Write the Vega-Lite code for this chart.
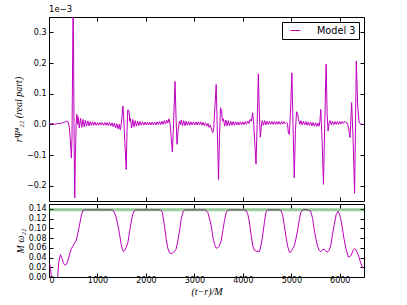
{
  "$schema": "https://vega.github.io/schema/vega-lite/v6.json",
  "background": "white",
  "padding": {"left": 13, "top": 4, "right": 5, "bottom": 5},
  "config": {
    "font": "DejaVu Sans",
    "view": {"stroke": "black", "strokeWidth": 1},
    "axis": {"grid": false, "domain": false, "tickColor": "black", "tickSize": -4, "labelColor": "black", "labelFontSize": 8, "labelPadding": 7, "titleColor": "black", "titleFont": "Liberation Serif", "titleFontStyle": "italic", "titleFontWeight": "normal", "titleFontSize": 10}
  },
  "spacing": 1,
  "datasets": {
    "psi": [
      {"t":0,"v":0.004},{"t":40,"v":0.001},{"t":80,"v":0.003},{"t":120,"v":0.0},{"t":160,"v":0.002},{"t":200,"v":0.003},{"t":240,"v":0.003},{"t":280,"v":0.005},{"t":320,"v":0.007},{"t":360,"v":0.01},{"t":395,"v":0.008},{"t":420,"v":-0.01},{"t":440,"v":-0.05},{"t":462,"v":-0.11},{"t":475,"v":-0.04},{"t":487,"v":0.2},{"t":497,"v":0.4},{"t":507,"v":0.25},{"t":518,"v":-0.05},{"t":531,"v":-0.24},{"t":545,"v":-0.1},{"t":560,"v":0.0},{"t":575,"v":0.033},{"t":590,"v":0.0},
      {"t":600,"v":0.025},{"t":625,"v":-0.012},{"t":650,"v":0.02},{"t":675,"v":-0.01},{"t":700,"v":0.016},{"t":725,"v":-0.008},{"t":750,"v":0.013},{"t":775,"v":-0.006},{"t":800,"v":0.011},{"t":825,"v":-0.005},{"t":850,"v":0.009},{"t":875,"v":-0.004},{"t":900,"v":0.008},{"t":925,"v":-0.003},{"t":950,"v":0.007},{"t":975,"v":-0.003},{"t":1000,"v":0.006},{"t":1025,"v":-0.003},{"t":1050,"v":0.006},{"t":1075,"v":-0.002},{"t":1100,"v":0.006},{"t":1125,"v":-0.003},{"t":1150,"v":0.006},{"t":1175,"v":-0.003},{"t":1200,"v":0.006},{"t":1225,"v":-0.004},{"t":1250,"v":0.006},{"t":1275,"v":-0.005},{"t":1300,"v":0.005},{"t":1325,"v":-0.008},{"t":1350,"v":0.004},{"t":1375,"v":-0.012},{"t":1400,"v":0.002},{"t":1425,"v":-0.015},{"t":1450,"v":0.0},{"t":1470,"v":-0.018},
      {"t":1490,"v":0.0},{"t":1510,"v":0.03},{"t":1525,"v":0.06},{"t":1540,"v":0.025},{"t":1565,"v":-0.06},{"t":1593,"v":-0.147},{"t":1610,"v":-0.02},{"t":1625,"v":0.047},{"t":1650,"v":0.045},{"t":1665,"v":0.01},
      {"t":1680,"v":0.02},{"t":1705,"v":-0.012},{"t":1730,"v":0.016},{"t":1755,"v":-0.008},{"t":1780,"v":0.012},{"t":1805,"v":-0.006},{"t":1830,"v":0.01},{"t":1855,"v":-0.004},{"t":1880,"v":0.009},{"t":1905,"v":-0.003},{"t":1930,"v":0.008},{"t":1955,"v":-0.002},{"t":1980,"v":0.007},{"t":2005,"v":-0.002},{"t":2030,"v":0.007},{"t":2055,"v":-0.002},{"t":2080,"v":0.007},{"t":2105,"v":-0.002},{"t":2130,"v":0.007},{"t":2155,"v":-0.002},{"t":2180,"v":0.007},{"t":2205,"v":-0.002},{"t":2230,"v":0.008},{"t":2255,"v":-0.001},{"t":2280,"v":0.009},{"t":2305,"v":-0.001},{"t":2330,"v":0.01},{"t":2355,"v":0.0},{"t":2380,"v":0.012},{"t":2405,"v":0.001},{"t":2430,"v":0.014},{"t":2450,"v":0.004},{"t":2477,"v":0.018},
      {"t":2500,"v":0.0},{"t":2520,"v":-0.04},{"t":2545,"v":-0.09},{"t":2570,"v":0.0},{"t":2600,"v":0.14},{"t":2620,"v":0.03},{"t":2641,"v":-0.065},{"t":2665,"v":-0.02},{"t":2690,"v":0.01},{"t":2710,"v":0.0},{"t":2730,"v":0.014},
      {"t":2755,"v":-0.005},{"t":2780,"v":0.012},{"t":2805,"v":-0.004},{"t":2830,"v":0.01},{"t":2855,"v":-0.003},{"t":2880,"v":0.009},{"t":2905,"v":-0.003},{"t":2930,"v":0.008},{"t":2955,"v":-0.002},{"t":2980,"v":0.008},{"t":3005,"v":-0.002},{"t":3030,"v":0.008},{"t":3055,"v":-0.002},{"t":3080,"v":0.008},{"t":3105,"v":-0.002},{"t":3130,"v":0.008},{"t":3155,"v":-0.003},{"t":3180,"v":0.007},{"t":3205,"v":-0.004},{"t":3230,"v":0.005},{"t":3255,"v":-0.006},{"t":3280,"v":0.003},{"t":3305,"v":-0.01},{"t":3330,"v":-0.002},{"t":3355,"v":-0.018},{"t":3381,"v":-0.027},
      {"t":3400,"v":-0.01},{"t":3425,"v":0.06},{"t":3450,"v":0.13},{"t":3470,"v":0.0},{"t":3498,"v":-0.18},{"t":3518,"v":-0.04},{"t":3539,"v":0.054},{"t":3560,"v":0.045},{"t":3580,"v":0.01},
      {"t":3600,"v":0.018},{"t":3625,"v":-0.006},{"t":3650,"v":0.014},{"t":3675,"v":-0.005},{"t":3700,"v":0.012},{"t":3725,"v":-0.004},{"t":3750,"v":0.01},{"t":3775,"v":-0.003},{"t":3800,"v":0.009},{"t":3825,"v":-0.003},{"t":3850,"v":0.008},{"t":3875,"v":-0.002},{"t":3900,"v":0.008},{"t":3925,"v":-0.002},{"t":3950,"v":0.008},{"t":3975,"v":-0.002},{"t":4000,"v":0.008},{"t":4025,"v":-0.001},{"t":4050,"v":0.009},{"t":4075,"v":0.0},{"t":4100,"v":0.011},{"t":4125,"v":0.003},{"t":4150,"v":0.016},{"t":4175,"v":0.01},{"t":4203,"v":0.038},
      {"t":4225,"v":0.0},{"t":4250,"v":-0.07},{"t":4272,"v":-0.13},{"t":4295,"v":0.0},{"t":4320,"v":0.165},{"t":4340,"v":0.04},{"t":4360,"v":-0.042},{"t":4380,"v":-0.01},{"t":4400,"v":0.012},
      {"t":4425,"v":-0.003},{"t":4450,"v":0.012},{"t":4475,"v":-0.002},{"t":4500,"v":0.01},{"t":4525,"v":0.0},{"t":4550,"v":0.01},{"t":4575,"v":0.0},{"t":4600,"v":0.009},{"t":4625,"v":0.0},{"t":4650,"v":0.009},{"t":4675,"v":0.0},{"t":4700,"v":0.009},{"t":4725,"v":0.0},{"t":4750,"v":0.009},{"t":4775,"v":0.0},{"t":4800,"v":0.009},{"t":4825,"v":0.001},{"t":4850,"v":0.009},{"t":4875,"v":0.002},{"t":4900,"v":0.006},{"t":4920,"v":0.003},{"t":4940,"v":-0.028},{"t":4960,"v":-0.033},
      {"t":4985,"v":0.05},{"t":5012,"v":0.168},{"t":5035,"v":0.0},{"t":5061,"v":-0.174},{"t":5085,"v":-0.02},{"t":5108,"v":0.041},{"t":5130,"v":0.035},{"t":5150,"v":0.015},
      {"t":5175,"v":0.0},{"t":5200,"v":0.012},{"t":5225,"v":-0.002},{"t":5250,"v":0.01},{"t":5275,"v":-0.002},{"t":5300,"v":0.009},{"t":5325,"v":-0.003},{"t":5350,"v":0.008},{"t":5375,"v":-0.004},{"t":5400,"v":0.007},{"t":5425,"v":-0.005},{"t":5450,"v":0.006},{"t":5475,"v":-0.006},{"t":5500,"v":0.005},{"t":5525,"v":-0.007},{"t":5550,"v":0.004},{"t":5575,"v":-0.006},{"t":5590,"v":0.01},
      {"t":5608,"v":0.049},{"t":5635,"v":-0.05},{"t":5663,"v":-0.196},{"t":5690,"v":0.0},{"t":5718,"v":0.196},{"t":5740,"v":0.03},{"t":5759,"v":-0.022},{"t":5780,"v":0.005},
      {"t":5800,"v":0.012},{"t":5825,"v":-0.002},{"t":5850,"v":0.01},{"t":5875,"v":-0.001},{"t":5900,"v":0.009},{"t":5925,"v":0.0},{"t":5950,"v":0.009},{"t":5975,"v":0.0},{"t":6000,"v":0.009},{"t":6025,"v":0.001},{"t":6050,"v":0.009},{"t":6075,"v":0.003},{"t":6100,"v":0.01},{"t":6125,"v":0.006},{"t":6150,"v":0.005},{"t":6180,"v":-0.01},{"t":6211,"v":-0.043},
      {"t":6245,"v":0.071},{"t":6275,"v":-0.05},{"t":6306,"v":-0.225},{"t":6325,"v":0.0},{"t":6341,"v":0.206},{"t":6370,"v":0.06},{"t":6400,"v":0.005},{"t":6430,"v":0.002},{"t":6460,"v":0.0},{"t":6480,"v":0.001}
    ],
    "omega": [
      {"t":0,"w":0.028},{"t":20,"w":0.025},{"t":40,"w":0.01},{"t":60,"w":-0.02},{"t":100,"w":-0.05},{"t":150,"w":-0.03},{"t":180,"w":0.0},{"t":200,"w":0.03},{"t":236,"w":0.046},{"t":270,"w":0.038},{"t":300,"w":0.028},{"t":339,"w":0.024},{"t":380,"w":0.03},{"t":420,"w":0.045},{"t":460,"w":0.058},{"t":497,"w":0.064},{"t":530,"w":0.07},{"t":565,"w":0.076},{"t":600,"w":0.092},{"t":634,"w":0.109},{"t":670,"w":0.128},{"t":702,"w":0.137},{"t":750,"w":0.138},
      {"t":1300,"w":0.138},{"t":1330,"w":0.136},{"t":1380,"w":0.125},{"t":1422,"w":0.106},{"t":1460,"w":0.085},{"t":1490,"w":0.067},{"t":1515,"w":0.056},{"t":1538,"w":0.052},{"t":1560,"w":0.054},{"t":1590,"w":0.06},{"t":1628,"w":0.071},{"t":1665,"w":0.095},{"t":1696,"w":0.113},{"t":1730,"w":0.13},{"t":1765,"w":0.137},{"t":1800,"w":0.138},
      {"t":2300,"w":0.138},{"t":2340,"w":0.133},{"t":2381,"w":0.106},{"t":2415,"w":0.08},{"t":2450,"w":0.06},{"t":2485,"w":0.05},{"t":2518,"w":0.048},{"t":2560,"w":0.05},{"t":2621,"w":0.057},{"t":2650,"w":0.07},{"t":2689,"w":0.092},{"t":2730,"w":0.12},{"t":2771,"w":0.135},{"t":2810,"w":0.138},
      {"t":3230,"w":0.138},{"t":3280,"w":0.132},{"t":3347,"w":0.106},{"t":3380,"w":0.083},{"t":3416,"w":0.067},{"t":3445,"w":0.06},{"t":3470,"w":0.059},{"t":3510,"w":0.063},{"t":3552,"w":0.074},{"t":3590,"w":0.097},{"t":3621,"w":0.116},{"t":3655,"w":0.132},{"t":3690,"w":0.137},{"t":3720,"w":0.138},
      {"t":4060,"w":0.138},{"t":4100,"w":0.13},{"t":4135,"w":0.113},{"t":4170,"w":0.088},{"t":4204,"w":0.064},{"t":4238,"w":0.055},{"t":4290,"w":0.053},{"t":4341,"w":0.052},{"t":4375,"w":0.065},{"t":4409,"w":0.085},{"t":4445,"w":0.112},{"t":4477,"w":0.133},{"t":4510,"w":0.138},
      {"t":4780,"w":0.138},{"t":4820,"w":0.128},{"t":4855,"w":0.106},{"t":4890,"w":0.083},{"t":4923,"w":0.064},{"t":4950,"w":0.054},{"t":4971,"w":0.05},{"t":5010,"w":0.055},{"t":5061,"w":0.064},{"t":5095,"w":0.078},{"t":5128,"w":0.095},{"t":5165,"w":0.118},{"t":5197,"w":0.133},{"t":5240,"w":0.138},{"t":5287,"w":0.139},{"t":5340,"w":0.138},{"t":5402,"w":0.135},{"t":5440,"w":0.12},{"t":5471,"w":0.099},{"t":5505,"w":0.08},{"t":5540,"w":0.064},{"t":5575,"w":0.055},{"t":5608,"w":0.052},{"t":5640,"w":0.056},{"t":5677,"w":0.057},{"t":5710,"w":0.053},{"t":5745,"w":0.051},{"t":5780,"w":0.055},{"t":5813,"w":0.064},{"t":5850,"w":0.087},{"t":5883,"w":0.106},{"t":5925,"w":0.128},{"t":5965,"w":0.135},{"t":5990,"w":0.13},{"t":6019,"w":0.12},{"t":6055,"w":0.1},{"t":6088,"w":0.078},{"t":6130,"w":0.057},{"t":6177,"w":0.041},{"t":6210,"w":0.042},{"t":6238,"w":0.045},{"t":6275,"w":0.055},{"t":6306,"w":0.058},{"t":6335,"w":0.056},{"t":6362,"w":0.05},{"t":6400,"w":0.04},{"t":6430,"w":0.029},{"t":6479,"w":0.018}
    ],
    "ref": [{"w": 0.138}]
  },
  "vconcat": [
    {
      "width": 315,
      "height": 184,
      "title": {"text": "1e−3", "anchor": "start", "frame": "group", "fontSize": 8.5, "fontWeight": "normal", "font": "DejaVu Sans", "color": "black", "offset": 3},
      "data": {"name": "psi"},
      "layer": [
        {
          "mark": {"type": "line", "strokeWidth": 1, "clip": true},
          "encoding": {
            "x": {"field": "t", "type": "quantitative", "scale": {"domain": [0, 6500], "nice": false, "zero": false}, "axis": {"values": [0,1000,2000,3000,4000,5000,6000], "labels": false, "title": null}},
            "y": {"field": "v", "type": "quantitative", "scale": {"domain": [-0.25, 0.35], "nice": false, "zero": false}, "axis": {"values": [-0.2,-0.1,0,0.1,0.2,0.3], "format": ".1f", "title": "rΨ⁴₂₂ (real part)", "titlePadding": 3}},
            "color": {"datum": "Model 3", "type": "nominal", "scale": {"range": ["#bf00bf"]}, "legend": {"title": null, "orient": "top-right", "offset": 5, "strokeColor": "black", "fillColor": "white", "padding": 3, "cornerRadius": 0, "symbolType": "stroke", "symbolSize": 100, "symbolStrokeWidth": 1, "symbolOffset": 5, "labelOffset": 16, "labelFontSize": 9.7, "labelFont": "DejaVu Sans", "labelColor": "black"}}
          }
        },
        {
          "mark": {"type": "line", "opacity": 0, "clip": true},
          "encoding": {
            "x": {"field": "t", "type": "quantitative", "axis": {"orient": "top", "values": [0,1000,2000,3000,4000,5000,6000], "labels": false, "title": null}},
            "y": {"field": "v", "type": "quantitative", "axis": {"orient": "right", "values": [-0.2,-0.1,0,0.1,0.2,0.3], "labels": false, "title": null}}
          }
        }
      ],
      "resolve": {"axis": {"x": "independent", "y": "independent"}}
    },
    {
      "width": 315,
      "height": 73,
      "layer": [
        {
          "data": {"name": "omega"},
          "mark": {"type": "line", "strokeWidth": 1, "color": "#bf00bf", "clip": true},
          "encoding": {
            "x": {"field": "t", "type": "quantitative", "scale": {"domain": [0, 6500], "nice": false, "zero": false}, "axis": {"values": [0,1000,2000,3000,4000,5000,6000], "format": "d", "title": "(t−r)/M", "labelPadding": 3, "titlePadding": 2}},
            "y": {"field": "w", "type": "quantitative", "scale": {"domain": [0, 0.15], "nice": false, "zero": false}, "axis": {"values": [0,0.02,0.04,0.06,0.08,0.1,0.12,0.14], "format": ".2f", "title": "M ω₂₂", "titlePadding": 3}}
          }
        },
        {
          "data": {"name": "omega"},
          "mark": {"type": "line", "opacity": 0, "clip": true},
          "encoding": {
            "x": {"field": "t", "type": "quantitative", "axis": {"orient": "top", "values": [0,1000,2000,3000,4000,5000,6000], "labels": false, "title": null}},
            "y": {"field": "w", "type": "quantitative", "axis": {"orient": "right", "values": [0,0.02,0.04,0.06,0.08,0.1,0.12,0.14], "labels": false, "title": null}}
          }
        },
        {
          "data": {"name": "ref"},
          "mark": {"type": "rule", "color": "#008000", "opacity": 0.4, "strokeWidth": 3},
          "encoding": {"y": {"field": "w", "type": "quantitative", "axis": null}}
        }
      ],
      "resolve": {"axis": {"x": "independent", "y": "independent"}}
    }
  ]
}
